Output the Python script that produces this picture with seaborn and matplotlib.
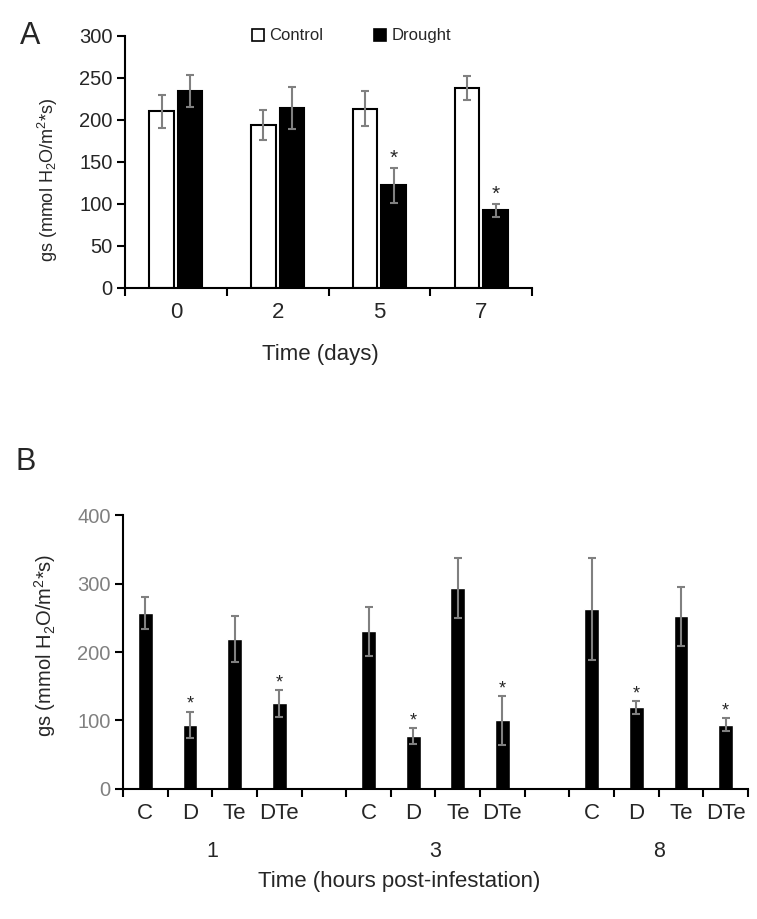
import numpy as np
import pandas as pd
import matplotlib
matplotlib.use("Agg")
import matplotlib.pyplot as plt
import seaborn as sns
from matplotlib.lines import Line2D
from matplotlib.transforms import blended_transform_factory

# ===== Data: panel A =====
days = ["0", "2", "5", "7"]
control_gs = [210, 194, 213, 238]
control_err = [20, 18, 21, 14]
drought_gs = [234, 214, 122, 92]
drought_err = [19, 25, 21, 8]
drought_sig = [False, False, True, True]

# ===== Data: panel B =====
hours = ["1", "3", "8"]
treatments = ["C", "D", "Te", "DTe"]
gs_1h = [257, 94, 219, 125]
err_1h = [24, 19, 33, 20]
gs_3h = [230, 77, 293, 100]
err_3h = [36, 12, 44, 36]
gs_8h = [263, 119, 252, 94]
err_8h = [75, 10, 43, 10]
sig_b = [False, True, False, True]

# ===== Style =====
sns.set_style("ticks")
plt.rcParams["font.family"] = ["Liberation Sans", "DejaVu Sans"]
plt.rcParams["mathtext.fontset"] = "custom"
plt.rcParams["mathtext.rm"] = "Liberation Sans"
plt.rcParams["mathtext.it"] = "Liberation Sans:italic"

ERR_COLOR = "#808080"
ylab = r"gs (mmol H$_2$O/m$^2$*s)"

fig = plt.figure(figsize=(7.57, 9.19), dpi=100)
axA = fig.add_axes([0.165, 0.687, 0.538, 0.274])
axB = fig.add_axes([0.1625, 0.1415, 0.8255, 0.298])

# ===== Panel A =====
df_a = pd.DataFrame({
    "day": days * 2,
    "gs": control_gs + drought_gs,
    "treatment": ["Control"] * len(days) + ["Drought"] * len(days),
})
sns.barplot(data=df_a, x="day", y="gs", hue="treatment", order=days,
            hue_order=["Control", "Drought"],
            palette={"Control": "white", "Drought": "black"},
            edgecolor="black", linewidth=1.5, width=0.56, gap=0.14,
            saturation=1, legend=False, ax=axA)

for cont, errs, sigs in zip(axA.containers, [control_err, drought_err],
                            [[False] * 4, drought_sig]):
    bars = sorted(cont, key=lambda b: b.get_x())
    for bar, e, s in zip(bars, errs, sigs):
        x = bar.get_x() + bar.get_width() / 2
        h = bar.get_height()
        axA.errorbar(x, h, yerr=e, color=ERR_COLOR, lw=1.5, capsize=2.6,
                     capthick=1.5, zorder=3)
        if s:
            axA.annotate("*", (x, h + e), xytext=(0, 0), textcoords="offset points",
                         ha="center", va="bottom", fontsize=15)

axA.set_ylim(0, 300)
axA.set_yticks(np.arange(0, 301, 50))
axA.set_xlim(-0.5, len(days) - 0.5)
axA.set_xticks(np.arange(len(days)))
axA.set_xticklabels(days)
axA.set_xticks(np.arange(len(days) + 1) - 0.5, minor=True)
axA.tick_params(axis="x", which="major", length=0, pad=10, labelsize=16)
axA.tick_params(axis="x", which="minor", length=5.5, width=1.5, color="black")
axA.tick_params(axis="y", length=5.5, width=1.5, labelsize=14.5, color="black")
sns.despine(ax=axA)
for sp in ["left", "bottom"]:
    axA.spines[sp].set_linewidth(1.5)
    axA.spines[sp].set_color("black")

axA.set_xlabel("Time (days)", fontsize=16, va="center")
axA.xaxis.set_label_coords(0.48, -0.266)
axA.set_ylabel(ylab, fontsize=13, va="center")
axA.yaxis.set_label_coords(-0.189, 0.43)

handles = [
    Line2D([], [], marker="s", ls="", mfc="white", mec="black", ms=8, mew=1.2),
    Line2D([], [], marker="s", ls="", mfc="black", mec="black", ms=8, mew=1.2),
]
axA.legend(handles, ["Control", "Drought"], loc="center", bbox_to_anchor=(0.556, 1.0),
           ncol=2, frameon=False, fontsize=12, handletextpad=0.3,
           columnspacing=3.0, handlelength=0.8)

# ===== Panel B =====
order_b = []
rows = []
for i, (h, vals, errs) in enumerate(zip(hours, [gs_1h, gs_3h, gs_8h],
                                       [err_1h, err_3h, err_8h])):
    for t, v, e, s in zip(treatments, vals, errs, sig_b):
        slot = f"{t}_{h}"
        order_b.append(slot)
        rows.append({"slot": slot, "gs": v, "err": e, "sig": s, "hour": h, "treat": t})
    if i < len(hours) - 1:
        order_b.append(f"gap_{h}")
df_b = pd.DataFrame(rows)

sns.barplot(data=df_b, x="slot", y="gs", order=order_b, color="black",
            width=0.33, saturation=1, ax=axB)

for _, r in df_b.iterrows():
    x = order_b.index(r["slot"])
    axB.errorbar(x, r["gs"], yerr=r["err"], color=ERR_COLOR, lw=1.5, capsize=2.6,
                 capthick=1.5, zorder=3)
    if r["sig"]:
        axB.annotate("*", (x, r["gs"] + r["err"]), xytext=(0, -1),
                     textcoords="offset points", ha="center", va="bottom", fontsize=13)

axB.set_ylim(0, 400)
axB.set_yticks(np.arange(0, 401, 100))
axB.set_xlim(-0.5, len(order_b) - 0.5)
axB.set_xticks(np.arange(len(order_b)))
axB.set_xticklabels([s.split("_")[0] if not s.startswith("gap") else "" for s in order_b])
axB.set_xticks(np.arange(len(order_b) + 1) - 0.5, minor=True)
axB.tick_params(axis="x", which="major", length=0, pad=10, labelsize=16)
axB.tick_params(axis="x", which="minor", length=5.5, width=1.5, color="black")
axB.tick_params(axis="y", length=5.5, width=1.5, labelsize=14.5, color="black",
                labelcolor="#808080")
sns.despine(ax=axB)
for sp in ["left", "bottom"]:
    axB.spines[sp].set_linewidth(1.5)
    axB.spines[sp].set_color("black")

trans = blended_transform_factory(axB.transData, axB.transAxes)
for h in hours:
    xs = [order_b.index(s) for s in df_b.loc[df_b["hour"] == h, "slot"]]
    axB.text(np.mean(xs), -0.23, h, transform=trans, ha="center", va="center", fontsize=15.5)

axB.set_xlabel("Time (hours post-infestation)", fontsize=16, va="center")
axB.xaxis.set_label_coords(0.442, -0.339)
axB.set_ylabel(ylab, fontsize=14.5, va="center")
axB.yaxis.set_label_coords(-0.125, 0.526)

# ===== Panel letters =====
fig.text(0.026, 1 - 36 / 919, "A", fontsize=22, va="center", ha="left")
fig.text(0.02, 1 - 462 / 919, "B", fontsize=22, va="center", ha="left")

fig.savefig("out.png", dpi=100)
